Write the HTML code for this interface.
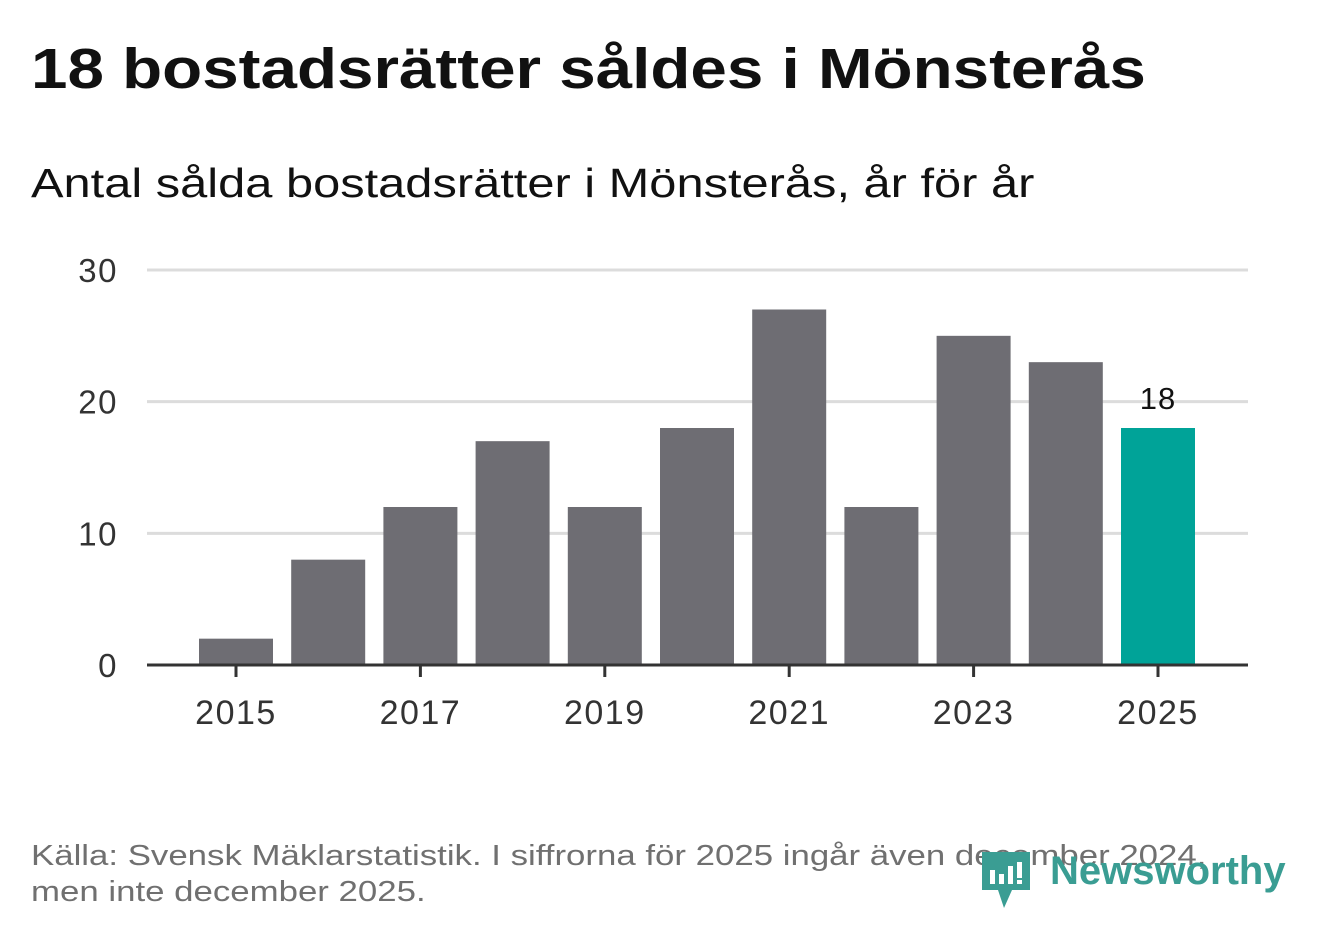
<!DOCTYPE html>
<html><head><meta charset="utf-8"><style>
body{margin:0;width:1322px;height:939px;background:#fff;font-family:"Liberation Sans","DejaVu Sans",sans-serif;overflow:hidden;position:relative}
.t{position:absolute;white-space:nowrap;transform-origin:0 0}
</style></head><body>
<div class="t" style="left:31px;top:36px;font-size:57px;font-weight:bold;color:#111;transform:scaleX(1.15)">18 bostadsrätter såldes i Mönsterås</div>
<div class="t" style="left:31px;top:160px;font-size:41px;color:#111;transform:scaleX(1.19)">Antal sålda bostadsrätter i Mönsterås, år för år</div>
<svg id="chart" width="1322" height="800" style="position:absolute;left:0;top:0"></svg>
<div class="t" style="left:31px;top:838px;font-size:29px;line-height:36px;color:#707070;transform:scaleX(1.2)">Källa: Svensk Mäklarstatistik. I siffrorna för 2025 ingår även december 2024,<br>men inte december 2025.</div>
<div style="position:absolute;left:982px;top:852px;">
<svg width="50" height="58" style="position:absolute;left:0;top:0"><path d="M0 0H48V38L30 38L22 56L16 38H0Z" fill="#3a9d93"/><rect x="8" y="18" width="5" height="14" fill="#fff"/><rect x="17" y="22" width="5" height="10" fill="#fff"/><rect x="26" y="14" width="5" height="18" fill="#fff"/><rect x="35" y="10" width="5" height="16" fill="#fff"/><rect x="35" y="28" width="5" height="4" fill="#fff"/></svg>
<div class="t" style="left:68px;top:-3px;font-size:40px;font-weight:bold;color:#3a9d93">Newsworthy</div></div>
<script>
const years=[2015,2016,2017,2018,2019,2020,2021,2022,2023,2024,2025];
const values=[2,8,12,17,12,18,27,12,25,23,18];
const yTicks=[0,10,20,30];
const xLabels=[2015,2017,2019,2021,2023,2025];
const ns="http://www.w3.org/2000/svg",svg=document.getElementById('chart');
const y=v=>665-v*(395/30);
const x=yr=>236+(yr-2015)*92.2;
function mk(t,a){const e=document.createElementNS(ns,t);for(const k in a)e.setAttribute(k,a[k]);svg.appendChild(e);return e;}
yTicks.forEach(v=>{
 if(v>0){const g=mk('line',{x1:147,x2:1248,y1:y(v),y2:y(v),stroke:'#dcdcdc','stroke-width':3});
 
 }
 const t=mk('text',{x:118,y:y(v)+12,'text-anchor':'end','font-size':33,'letter-spacing':1.5,fill:'#333','font-family':'Liberation Sans, sans-serif'});t.textContent=v;
 
 
});
years.forEach((yr,i)=>{
 const r=mk('rect',{x:x(yr)-37,y:y(values[i]),width:74,height:665-y(values[i]),fill:yr===2025?'#00a398':'#6e6d73'});
 
 
});
const lb=mk('text',{x:x(2025),y:y(values[10])-19,'text-anchor':'middle','font-size':31,'letter-spacing':1,fill:'#111','font-family':'Liberation Sans, sans-serif'});lb.textContent=values[10];


const ax=mk('line',{x1:147,x2:1248,y1:665,y2:665,stroke:'#333','stroke-width':3});


xLabels.forEach(yr=>{
 const tk=mk('line',{x1:x(yr),x2:x(yr),y1:665,y2:677,stroke:'#333','stroke-width':3});
 
 
 const t=mk('text',{x:x(yr),y:724,'text-anchor':'middle','font-size':34,'letter-spacing':1.5,fill:'#333','font-family':'Liberation Sans, sans-serif'});t.textContent=yr;
 
 
});
</script>
</body></html>
